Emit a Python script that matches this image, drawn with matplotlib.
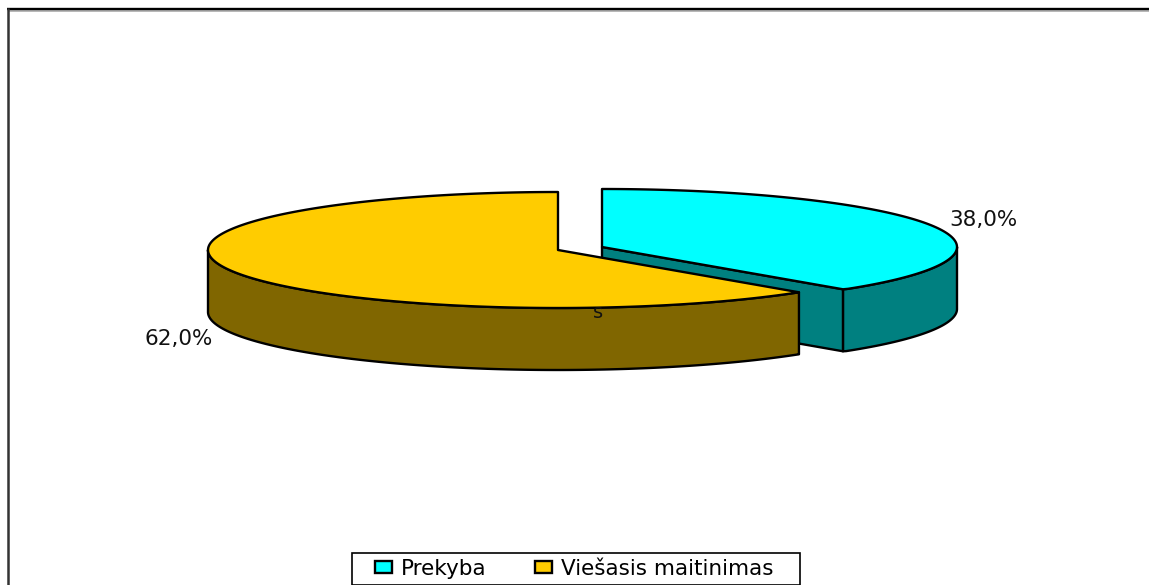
import numpy as np
import matplotlib
matplotlib.use('Agg')
import matplotlib.pyplot as plt
from matplotlib.patches import Patch, Polygon, Rectangle

# Datos del grafico
categorias = ['Prekyba', 'Viešasis maitinimas']
valores = [38.0, 62.0]
etiquetas = ['38,0%', '62,0%']
colores_tapa = ['#00FFFF', '#FFCC00']
colores_lado = ['#008080', '#806600']

plt.rcParams['font.family'] = ['DejaVu Sans']
LW = 1.7
RX, RY, ALTO = 350, 58, 62
TAM = 15.5


def arco(cx, cy, rx, t1, t2):
    t = np.radians(np.linspace(t1, t2, 200))
    return np.column_stack([cx + rx * np.cos(t), cy - RY * np.sin(t)])


def cara(ax, puntos, color):
    ax.add_patch(Polygon(puntos, closed=True, facecolor=color, edgecolor='black',
                         linewidth=LW, joinstyle='round'))


fig = plt.figure(figsize=(11.49, 5.85), dpi=100)
ax = fig.add_axes([0, 0, 1, 1])
ax.set_xlim(0, 1149)
ax.set_ylim(585, 0)
ax.axis('off')

# Marco del area del grafico
ax.plot([8, 1149], [10.5, 10.5], color='#aaaaaa', lw=1.2, solid_capstyle='butt')
ax.plot([7, 1149], [8.5, 8.5], color='black', lw=1.7, solid_capstyle='butt')
ax.plot([8, 8], [8, 585], color='#333333', lw=1.8, solid_capstyle='butt')

# Porcion cian (separada), empieza a las 12 en sentido horario
fin = 90 - valores[0] / sum(valores) * 360
cx, cy, rx = 602, 247, 352
borde = arco(cx, cy, 355, fin, 0)
p = arco(cx, cy, rx, fin, fin)[0]
borde[0] = p
cara(ax, np.vstack([borde, borde[::-1] + [0, ALTO]]), colores_lado[0])
cara(ax, [(cx, cy), p, p + [0, ALTO], (cx, cy + ALTO)], colores_lado[0])
tapa = arco(cx, cy, 355, 90, fin)
tapa[-1] = p
cara(ax, np.vstack([[(cx, cy)], tapa]), colores_tapa[0])

# Porcion naranja, sigue hasta cerrar el circulo
cx, cy, rx = 558, 250, 352
izq = arco(cx, cy, 350, 180, 270)
der = arco(cx, cy, rx, 270, 360 + fin)
borde = np.vstack([izq, der])
cara(ax, np.vstack([borde, borde[::-1] + [0, ALTO]]), colores_lado[1])
tapa = np.vstack([arco(cx, cy, 350, 90, 270), der])
cara(ax, np.vstack([[(cx, cy)], tapa]), colores_tapa[1])

# Etiquetas
ax.text(983, 220, etiquetas[0], ha='center', va='center', fontsize=TAM, color='#111111')
ax.text(179, 339, etiquetas[1], ha='center', va='center', fontsize=TAM, color='#111111')
ax.text(598, 312, 's', ha='center', va='center', fontsize=14, color='#111111')

# Leyenda: caja aparte porque llega hasta el borde inferior
ax.add_patch(Rectangle((352, 553), 448, 32, facecolor='white', edgecolor='black', linewidth=1.2, zorder=4))
manejadores = [Patch(facecolor=c, edgecolor='black', linewidth=LW) for c in colores_tapa]
ley = ax.legend(manejadores, categorias, ncol=2, loc='upper left',
                bbox_to_anchor=(375, 559), bbox_transform=ax.transData,
                fontsize=TAM, frameon=False,
                borderaxespad=0, borderpad=0, handlelength=0.78, handleheight=0.5,
                handletextpad=0.42, columnspacing=2.27, labelspacing=0)
ley.set_zorder(5)

fig.savefig('out.png', dpi=100)
